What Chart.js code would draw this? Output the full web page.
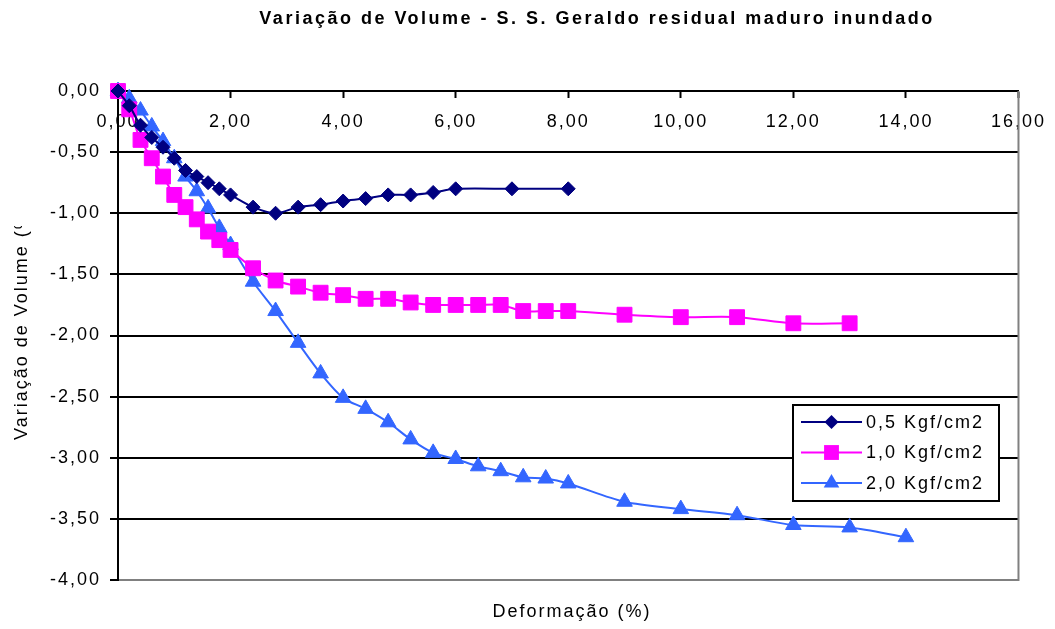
<!DOCTYPE html>
<html>
<head>
<meta charset="utf-8">
<title>Variação de Volume</title>
<script src="https://cdn.jsdelivr.net/npm/chart.js@4.4.0/dist/chart.umd.min.js"></script>
<style>
  html, body { margin: 0; padding: 0; background: #fff; }
  #wrap { width: 1055px; height: 629px; }
</style>
</head>
<body>
<div id="wrap"><canvas id="volChart" width="1055" height="629"></canvas></div>
<script>
// deformação (%) e variação de volume (%) por tensão
var labels = ['0,5 Kgf/cm2', '1,0 Kgf/cm2', '2,0 Kgf/cm2'];

var def05 = [0, 0.2, 0.4, 0.6, 0.8, 1.0, 1.2, 1.4, 1.6, 1.8, 2.0, 2.4, 2.8, 3.2, 3.6, 4.0, 4.4, 4.8, 5.2, 5.6, 6.0, 7.0, 8.0];
var vol05 = [0, -0.12, -0.28, -0.38, -0.46, -0.55, -0.65, -0.70, -0.75, -0.80, -0.85, -0.95, -1.00, -0.95, -0.93, -0.90, -0.88, -0.85, -0.85, -0.83, -0.80, -0.80, -0.80];

var def10 = [0, 0.2, 0.4, 0.6, 0.8, 1.0, 1.2, 1.4, 1.6, 1.8, 2.0, 2.4, 2.8, 3.2, 3.6, 4.0, 4.4, 4.8, 5.2, 5.6, 6.0, 6.4, 6.8, 7.2, 7.6, 8.0, 9, 10, 11, 12, 13];
var vol10 = [0, -0.15, -0.40, -0.55, -0.70, -0.85, -0.95, -1.05, -1.15, -1.22, -1.30, -1.45, -1.55, -1.60, -1.65, -1.67, -1.70, -1.70, -1.73, -1.75, -1.75, -1.75, -1.75, -1.80, -1.80, -1.80, -1.83, -1.85, -1.85, -1.90, -1.90];

var def20 = [0, 0.2, 0.4, 0.6, 0.8, 1.0, 1.2, 1.4, 1.6, 1.8, 2.0, 2.4, 2.8, 3.2, 3.6, 4.0, 4.4, 4.8, 5.2, 5.6, 6.0, 6.4, 6.8, 7.2, 7.6, 8.0, 9, 10, 11, 12, 13, 14];
var vol20 = [0, -0.06, -0.16, -0.29, -0.41, -0.55, -0.70, -0.82, -0.96, -1.12, -1.26, -1.56, -1.80, -2.06, -2.31, -2.51, -2.60, -2.71, -2.85, -2.96, -3.01, -3.07, -3.11, -3.16, -3.17, -3.21, -3.36, -3.42, -3.47, -3.55, -3.57, -3.65];

var xTicks = [0, 2, 4, 6, 8, 10, 12, 14, 16];
var yTicks = [0, -0.5, -1, -1.5, -2, -2.5, -3, -3.5, -4];

var FONT = '"Liberation Sans", Arial, sans-serif';

function pts(xs, ys) {
  return xs.map(function (x, i) { return { x: x, y: ys[i] }; });
}

function fmt(v) {
  return v.toFixed(2).replace('.', ',');
}

function serie(label, data, color, style, radius) {
  return {
    label: label,
    data: data,
    borderColor: color,
    backgroundColor: color,
    borderWidth: 2,
    pointStyle: style,
    pointRadius: radius,
    pointHoverRadius: radius,
    pointBackgroundColor: color,
    pointBorderColor: color,
    pointBorderWidth: 1,
    tension: 0.3,
    clip: false
  };
}

function marker(ctx, style, r, x, y, color) {
  ctx.fillStyle = color;
  ctx.beginPath();
  if (style === 'rectRot') {
    ctx.moveTo(x, y - r); ctx.lineTo(x + r, y); ctx.lineTo(x, y + r); ctx.lineTo(x - r, y);
  } else if (style === 'rect') {
    var s = r * Math.SQRT1_2;
    ctx.rect(x - s, y - s, 2 * s, 2 * s);
  } else {
    var a = Math.PI * 2 / 3;
    ctx.moveTo(x, y - r);
    ctx.lineTo(x + Math.sin(a) * r, y - Math.cos(a) * r);
    ctx.lineTo(x - Math.sin(a) * r, y - Math.cos(a) * r);
  }
  ctx.closePath();
  ctx.fill();
}

// espaçamento entre letras igual ao do Excel
var spacing = {
  id: 'spacing',
  beforeDraw: function (chart) { chart.ctx.letterSpacing = '2px'; }
};

// borda cinza do lado direito da área de plotagem
var frame = {
  id: 'frame',
  beforeDatasetsDraw: function (chart) {
    var a = chart.chartArea, ctx = chart.ctx;
    ctx.save();
    ctx.strokeStyle = '#808080';
    ctx.lineWidth = 2;
    ctx.beginPath();
    ctx.moveTo(a.right, a.top);
    ctx.lineTo(a.right, a.bottom + 1);
    ctx.stroke();
    ctx.restore();
  }
};

// títulos e legenda
var textos = {
  id: 'textos',
  afterDraw: function (chart) {
    var ctx = chart.ctx;
    ctx.save();
    ctx.fillStyle = '#000';
    ctx.textBaseline = 'middle';

    ctx.font = 'bold 18px ' + FONT;
    ctx.letterSpacing = '2.5px';
    ctx.textAlign = 'center';
    ctx.fillText('Variação de Volume - S. S. Geraldo residual maduro inundado', 597, 19);

    ctx.font = '18px ' + FONT;
    ctx.letterSpacing = '2px';
    ctx.fillText('Deformação (%)', 572, 612);

    ctx.save();
    ctx.beginPath();
    ctx.rect(0, 226, 60, 403);
    ctx.clip();
    ctx.translate(22, 440);
    ctx.rotate(-Math.PI / 2);
    ctx.textAlign = 'left';
    ctx.fillText('Variação de Volume (%)', 0, 0);
    ctx.restore();

    // legenda
    var bx = 793, by = 405, bw = 206, bh = 96;
    ctx.fillStyle = '#fff';
    ctx.fillRect(bx, by, bw, bh);
    ctx.strokeStyle = '#000';
    ctx.lineWidth = 2;
    ctx.strokeRect(bx, by, bw, bh);
    ctx.textAlign = 'left';
    chart.data.datasets.forEach(function (ds, i) {
      var y = 422 + i * 30.5;
      ctx.strokeStyle = ds.borderColor;
      ctx.lineWidth = 2;
      ctx.beginPath();
      ctx.moveTo(801, y);
      ctx.lineTo(862, y);
      ctx.stroke();
      marker(ctx, ds.pointStyle, ds.pointRadius, 831.5, y, ds.borderColor);
      ctx.fillStyle = '#000';
      ctx.fillText(ds.label, 866, y + 1);
    });
    ctx.restore();
  }
};

new Chart(document.getElementById('volChart').getContext('2d'), {
  type: 'line',
  data: {
    datasets: [
      serie(labels[0], pts(def05, vol05), '#000080', 'rectRot', 7),
      serie(labels[1], pts(def10, vol10), '#FF00FF', 'rect', 10.5),
      serie(labels[2], pts(def20, vol20), '#3366FF', 'triangle', 9)
    ]
  },
  options: {
    responsive: false,
    animation: false,
    events: [],
    layout: { padding: { left: 0, top: 91, right: 32, bottom: 49 } },
    plugins: {
      legend: { display: false },
      title: { display: false },
      tooltip: { enabled: false }
    },
    scales: {
      x: {
        type: 'linear',
        min: 0,
        max: 16,
        position: { y: 0 },
        afterBuildTicks: function (s) { s.ticks = xTicks.map(function (v) { return { value: v }; }); },
        ticks: {
          callback: fmt,
          autoSkip: false,
          maxRotation: 0,
          color: '#000',
          padding: 14,
          font: { family: FONT, size: 18 }
        },
        grid: { drawOnChartArea: false, tickLength: 6, tickColor: '#000', tickWidth: 2 },
        border: { color: '#000', width: 2 }
      },
      y: {
        type: 'linear',
        min: -4,
        max: 0,
        afterBuildTicks: function (s) { s.ticks = yTicks.map(function (v) { return { value: v }; }); },
        afterFit: function (s) { s.width = 118; },
        ticks: {
          callback: fmt,
          color: '#000',
          padding: 9,
          font: { family: FONT, size: 18 }
        },
        grid: {
          color: function (c) { return c.tick && c.tick.value === -4 ? '#808080' : '#000'; },
          lineWidth: 2,
          tickLength: 8,
          tickColor: '#000',
          tickWidth: 2
        },
        border: { color: '#000', width: 2 }
      }
    }
  },
  plugins: [spacing, frame, textos]
});
</script>
</body>
</html>
